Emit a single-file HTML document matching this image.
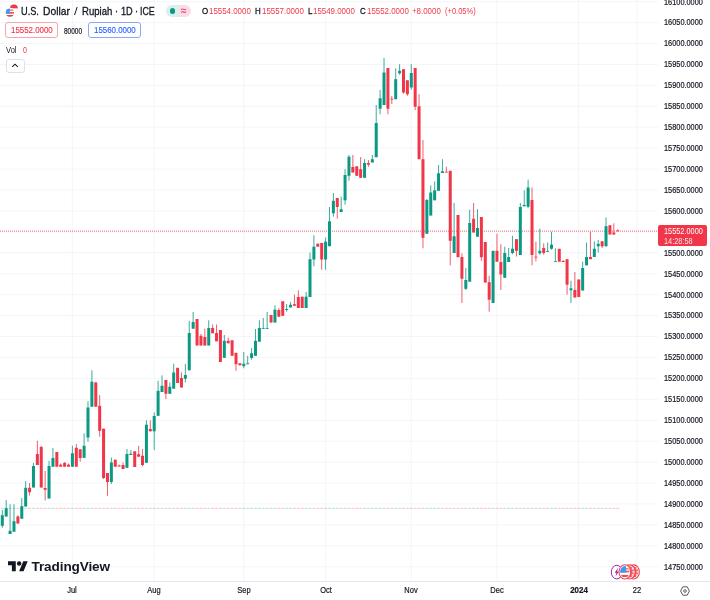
<!DOCTYPE html>
<html><head><meta charset="utf-8"><title>USDIDR</title>
<style>
html,body{margin:0;padding:0;background:#fff;}
body{width:710px;height:600px;position:relative;overflow:hidden;font-family:"Liberation Sans",sans-serif;color:#131722;}
#wrap{position:absolute;left:0;top:0;width:710px;height:600px;overflow:hidden;will-change:transform;background:#fff;}
#chart{position:absolute;left:0;top:0;width:710px;height:600px;}
.pl{position:absolute;left:663.7px;width:54px;height:14px;line-height:14px;font-size:9.5px;white-space:nowrap;transform-origin:0 50%;transform:scaleX(0.775);color:#131722;-webkit-text-stroke:0.22px #131722;}
.tl{position:absolute;top:583.2px;width:60px;height:14px;line-height:14px;text-align:center;font-size:8.6px;transform:scaleX(0.87);color:#131722;white-space:nowrap;-webkit-text-stroke:0.2px #131722;}
.tl.b{font-weight:bold;transform:scaleX(0.92);}
#taxis{position:absolute;left:0;top:580.8px;width:710px;height:1px;background:#e5e6ea;}
#plabel{position:absolute;left:657.7px;top:225.4px;width:49.3px;height:20.7px;background:#f03648;border-radius:2px;color:#fff;}
#plabel div{position:absolute;left:6.2px;white-space:nowrap;font-size:9.3px;line-height:10px;transform-origin:0 50%;transform:scaleX(0.79);}
.tt{position:absolute;top:3.2px;height:16px;line-height:16px;font-size:11.5px;white-space:nowrap;transform-origin:0 50%;color:#131722;-webkit-text-stroke:0.32px #131722;}
#title{position:absolute;left:20.6px;top:3px;height:16px;line-height:16px;font-size:12px;white-space:nowrap;transform-origin:0 50%;transform:scaleX(0.821);color:#131722;}
.ohlc{position:absolute;top:5.2px;height:12px;line-height:12px;font-size:9.5px;white-space:nowrap;transform-origin:0 50%;transform:scaleX(0.833);color:#f03648;}
.ohlc b{font-weight:normal;color:#131722;}
.btn{position:absolute;top:22.2px;height:14.3px;border-radius:3px;border:1px solid;box-sizing:content-box;}
.btn span{position:absolute;left:4.9px;top:2.1px;font-size:9.2px;line-height:11px;white-space:nowrap;transform-origin:0 50%;transform:scaleX(0.86);-webkit-text-stroke:0.15px currentColor;}
</style></head><body>
<div id="wrap">
<svg id="chart" width="710" height="600" viewBox="0 0 710 600">
<line x1="0" y1="1.64" x2="658" y2="1.64" stroke="#f3f4f6" stroke-width="0.9"/>
<line x1="0" y1="22.57" x2="658" y2="22.57" stroke="#f3f4f6" stroke-width="0.9"/>
<line x1="0" y1="43.50" x2="658" y2="43.50" stroke="#f3f4f6" stroke-width="0.9"/>
<line x1="0" y1="64.43" x2="658" y2="64.43" stroke="#f3f4f6" stroke-width="0.9"/>
<line x1="0" y1="85.36" x2="658" y2="85.36" stroke="#f3f4f6" stroke-width="0.9"/>
<line x1="0" y1="106.29" x2="658" y2="106.29" stroke="#f3f4f6" stroke-width="0.9"/>
<line x1="0" y1="127.22" x2="658" y2="127.22" stroke="#f3f4f6" stroke-width="0.9"/>
<line x1="0" y1="148.15" x2="658" y2="148.15" stroke="#f3f4f6" stroke-width="0.9"/>
<line x1="0" y1="169.08" x2="658" y2="169.08" stroke="#f3f4f6" stroke-width="0.9"/>
<line x1="0" y1="190.01" x2="658" y2="190.01" stroke="#f3f4f6" stroke-width="0.9"/>
<line x1="0" y1="210.94" x2="658" y2="210.94" stroke="#f3f4f6" stroke-width="0.9"/>
<line x1="0" y1="231.87" x2="658" y2="231.87" stroke="#f3f4f6" stroke-width="0.9"/>
<line x1="0" y1="252.80" x2="658" y2="252.80" stroke="#f3f4f6" stroke-width="0.9"/>
<line x1="0" y1="273.73" x2="658" y2="273.73" stroke="#f3f4f6" stroke-width="0.9"/>
<line x1="0" y1="294.66" x2="658" y2="294.66" stroke="#f3f4f6" stroke-width="0.9"/>
<line x1="0" y1="315.59" x2="658" y2="315.59" stroke="#f3f4f6" stroke-width="0.9"/>
<line x1="0" y1="336.52" x2="658" y2="336.52" stroke="#f3f4f6" stroke-width="0.9"/>
<line x1="0" y1="357.45" x2="658" y2="357.45" stroke="#f3f4f6" stroke-width="0.9"/>
<line x1="0" y1="378.38" x2="658" y2="378.38" stroke="#f3f4f6" stroke-width="0.9"/>
<line x1="0" y1="399.31" x2="658" y2="399.31" stroke="#f3f4f6" stroke-width="0.9"/>
<line x1="0" y1="420.24" x2="658" y2="420.24" stroke="#f3f4f6" stroke-width="0.9"/>
<line x1="0" y1="441.17" x2="658" y2="441.17" stroke="#f3f4f6" stroke-width="0.9"/>
<line x1="0" y1="462.10" x2="658" y2="462.10" stroke="#f3f4f6" stroke-width="0.9"/>
<line x1="0" y1="483.03" x2="658" y2="483.03" stroke="#f3f4f6" stroke-width="0.9"/>
<line x1="0" y1="503.96" x2="658" y2="503.96" stroke="#f3f4f6" stroke-width="0.9"/>
<line x1="0" y1="524.89" x2="658" y2="524.89" stroke="#f3f4f6" stroke-width="0.9"/>
<line x1="0" y1="545.82" x2="658" y2="545.82" stroke="#f3f4f6" stroke-width="0.9"/>
<line x1="0" y1="566.75" x2="658" y2="566.75" stroke="#f3f4f6" stroke-width="0.9"/>
<line x1="72.3" y1="0" x2="72.3" y2="581" stroke="#f3f4f6" stroke-width="0.9"/>
<line x1="154.2" y1="0" x2="154.2" y2="581" stroke="#f3f4f6" stroke-width="0.9"/>
<line x1="243.8" y1="0" x2="243.8" y2="581" stroke="#f3f4f6" stroke-width="0.9"/>
<line x1="325.6" y1="0" x2="325.6" y2="581" stroke="#f3f4f6" stroke-width="0.9"/>
<line x1="411.3" y1="0" x2="411.3" y2="581" stroke="#f3f4f6" stroke-width="0.9"/>
<line x1="497" y1="0" x2="497" y2="581" stroke="#f3f4f6" stroke-width="0.9"/>
<line x1="578.7" y1="0" x2="578.7" y2="581" stroke="#f3f4f6" stroke-width="0.9"/>
<line x1="637.1" y1="0" x2="637.1" y2="581" stroke="#f3f4f6" stroke-width="0.9"/>
<rect x="0.80" y="507.8" width="3" height="1" fill="#0b9983" opacity="0.3"/>
<rect x="4.70" y="507.8" width="3" height="1" fill="#0b9983" opacity="0.3"/>
<rect x="8.59" y="507.8" width="3" height="1" fill="#0b9983" opacity="0.3"/>
<rect x="12.48" y="507.8" width="3" height="1" fill="#0b9983" opacity="0.3"/>
<rect x="16.38" y="507.8" width="3" height="1" fill="#f03648" opacity="0.3"/>
<rect x="20.28" y="507.8" width="3" height="1" fill="#0b9983" opacity="0.3"/>
<rect x="24.17" y="507.8" width="3" height="1" fill="#0b9983" opacity="0.3"/>
<rect x="28.07" y="507.8" width="3" height="1" fill="#f03648" opacity="0.3"/>
<rect x="31.96" y="507.8" width="3" height="1" fill="#0b9983" opacity="0.3"/>
<rect x="35.85" y="507.8" width="3" height="1" fill="#f03648" opacity="0.3"/>
<rect x="39.75" y="507.8" width="3" height="1" fill="#f03648" opacity="0.3"/>
<rect x="43.64" y="507.8" width="3" height="1" fill="#f03648" opacity="0.3"/>
<rect x="47.54" y="507.8" width="3" height="1" fill="#0b9983" opacity="0.3"/>
<rect x="51.43" y="507.8" width="3" height="1" fill="#0b9983" opacity="0.3"/>
<rect x="55.33" y="507.8" width="3" height="1" fill="#f03648" opacity="0.3"/>
<rect x="59.22" y="507.8" width="3" height="1" fill="#f03648" opacity="0.3"/>
<rect x="63.12" y="507.8" width="3" height="1" fill="#f03648" opacity="0.3"/>
<rect x="67.02" y="507.8" width="3" height="1" fill="#f03648" opacity="0.3"/>
<rect x="70.91" y="507.8" width="3" height="1" fill="#0b9983" opacity="0.3"/>
<rect x="74.80" y="507.8" width="3" height="1" fill="#f03648" opacity="0.3"/>
<rect x="78.70" y="507.8" width="3" height="1" fill="#f03648" opacity="0.3"/>
<rect x="82.59" y="507.8" width="3" height="1" fill="#0b9983" opacity="0.3"/>
<rect x="86.49" y="507.8" width="3" height="1" fill="#0b9983" opacity="0.3"/>
<rect x="90.38" y="507.8" width="3" height="1" fill="#0b9983" opacity="0.3"/>
<rect x="94.28" y="507.8" width="3" height="1" fill="#f03648" opacity="0.3"/>
<rect x="98.17" y="507.8" width="3" height="1" fill="#f03648" opacity="0.3"/>
<rect x="102.07" y="507.8" width="3" height="1" fill="#f03648" opacity="0.3"/>
<rect x="105.97" y="507.8" width="3" height="1" fill="#f03648" opacity="0.3"/>
<rect x="109.86" y="507.8" width="3" height="1" fill="#0b9983" opacity="0.3"/>
<rect x="113.75" y="507.8" width="3" height="1" fill="#f03648" opacity="0.3"/>
<rect x="117.65" y="507.8" width="3" height="1" fill="#f03648" opacity="0.3"/>
<rect x="121.55" y="507.8" width="3" height="1" fill="#f03648" opacity="0.3"/>
<rect x="125.44" y="507.8" width="3" height="1" fill="#0b9983" opacity="0.3"/>
<rect x="129.34" y="507.8" width="3" height="1" fill="#0b9983" opacity="0.3"/>
<rect x="133.23" y="507.8" width="3" height="1" fill="#f03648" opacity="0.3"/>
<rect x="137.12" y="507.8" width="3" height="1" fill="#f03648" opacity="0.3"/>
<rect x="141.02" y="507.8" width="3" height="1" fill="#f03648" opacity="0.3"/>
<rect x="144.92" y="507.8" width="3" height="1" fill="#0b9983" opacity="0.3"/>
<rect x="148.81" y="507.8" width="3" height="1" fill="#f03648" opacity="0.3"/>
<rect x="152.71" y="507.8" width="3" height="1" fill="#0b9983" opacity="0.3"/>
<rect x="156.60" y="507.8" width="3" height="1" fill="#0b9983" opacity="0.3"/>
<rect x="160.50" y="507.8" width="3" height="1" fill="#0b9983" opacity="0.3"/>
<rect x="164.39" y="507.8" width="3" height="1" fill="#f03648" opacity="0.3"/>
<rect x="168.29" y="507.8" width="3" height="1" fill="#0b9983" opacity="0.3"/>
<rect x="172.18" y="507.8" width="3" height="1" fill="#0b9983" opacity="0.3"/>
<rect x="176.08" y="507.8" width="3" height="1" fill="#f03648" opacity="0.3"/>
<rect x="179.97" y="507.8" width="3" height="1" fill="#f03648" opacity="0.3"/>
<rect x="183.87" y="507.8" width="3" height="1" fill="#0b9983" opacity="0.3"/>
<rect x="187.76" y="507.8" width="3" height="1" fill="#0b9983" opacity="0.3"/>
<rect x="191.66" y="507.8" width="3" height="1" fill="#0b9983" opacity="0.3"/>
<rect x="195.55" y="507.8" width="3" height="1" fill="#f03648" opacity="0.3"/>
<rect x="199.45" y="507.8" width="3" height="1" fill="#f03648" opacity="0.3"/>
<rect x="203.34" y="507.8" width="3" height="1" fill="#f03648" opacity="0.3"/>
<rect x="207.24" y="507.8" width="3" height="1" fill="#0b9983" opacity="0.3"/>
<rect x="211.13" y="507.8" width="3" height="1" fill="#f03648" opacity="0.3"/>
<rect x="215.03" y="507.8" width="3" height="1" fill="#f03648" opacity="0.3"/>
<rect x="218.92" y="507.8" width="3" height="1" fill="#f03648" opacity="0.3"/>
<rect x="222.82" y="507.8" width="3" height="1" fill="#0b9983" opacity="0.3"/>
<rect x="226.71" y="507.8" width="3" height="1" fill="#f03648" opacity="0.3"/>
<rect x="230.61" y="507.8" width="3" height="1" fill="#f03648" opacity="0.3"/>
<rect x="234.50" y="507.8" width="3" height="1" fill="#f03648" opacity="0.3"/>
<rect x="238.40" y="507.8" width="3" height="1" fill="#f03648" opacity="0.3"/>
<rect x="242.29" y="507.8" width="3" height="1" fill="#0b9983" opacity="0.3"/>
<rect x="246.19" y="507.8" width="3" height="1" fill="#0b9983" opacity="0.3"/>
<rect x="250.08" y="507.8" width="3" height="1" fill="#0b9983" opacity="0.3"/>
<rect x="253.98" y="507.8" width="3" height="1" fill="#0b9983" opacity="0.3"/>
<rect x="257.87" y="507.8" width="3" height="1" fill="#0b9983" opacity="0.3"/>
<rect x="261.76" y="507.8" width="3" height="1" fill="#0b9983" opacity="0.3"/>
<rect x="265.66" y="507.8" width="3" height="1" fill="#0b9983" opacity="0.3"/>
<rect x="269.56" y="507.8" width="3" height="1" fill="#f03648" opacity="0.3"/>
<rect x="273.45" y="507.8" width="3" height="1" fill="#0b9983" opacity="0.3"/>
<rect x="277.35" y="507.8" width="3" height="1" fill="#f03648" opacity="0.3"/>
<rect x="281.24" y="507.8" width="3" height="1" fill="#f03648" opacity="0.3"/>
<rect x="285.13" y="507.8" width="3" height="1" fill="#0b9983" opacity="0.3"/>
<rect x="289.03" y="507.8" width="3" height="1" fill="#0b9983" opacity="0.3"/>
<rect x="292.93" y="507.8" width="3" height="1" fill="#f03648" opacity="0.3"/>
<rect x="296.82" y="507.8" width="3" height="1" fill="#f03648" opacity="0.3"/>
<rect x="300.72" y="507.8" width="3" height="1" fill="#f03648" opacity="0.3"/>
<rect x="304.61" y="507.8" width="3" height="1" fill="#0b9983" opacity="0.3"/>
<rect x="308.50" y="507.8" width="3" height="1" fill="#0b9983" opacity="0.3"/>
<rect x="312.40" y="507.8" width="3" height="1" fill="#0b9983" opacity="0.3"/>
<rect x="316.30" y="507.8" width="3" height="1" fill="#f03648" opacity="0.3"/>
<rect x="320.19" y="507.8" width="3" height="1" fill="#f03648" opacity="0.3"/>
<rect x="324.09" y="507.8" width="3" height="1" fill="#0b9983" opacity="0.3"/>
<rect x="327.98" y="507.8" width="3" height="1" fill="#0b9983" opacity="0.3"/>
<rect x="331.88" y="507.8" width="3" height="1" fill="#0b9983" opacity="0.3"/>
<rect x="335.77" y="507.8" width="3" height="1" fill="#f03648" opacity="0.3"/>
<rect x="339.67" y="507.8" width="3" height="1" fill="#0b9983" opacity="0.3"/>
<rect x="343.56" y="507.8" width="3" height="1" fill="#0b9983" opacity="0.3"/>
<rect x="347.46" y="507.8" width="3" height="1" fill="#0b9983" opacity="0.3"/>
<rect x="351.35" y="507.8" width="3" height="1" fill="#f03648" opacity="0.3"/>
<rect x="355.25" y="507.8" width="3" height="1" fill="#f03648" opacity="0.3"/>
<rect x="359.14" y="507.8" width="3" height="1" fill="#f03648" opacity="0.3"/>
<rect x="363.04" y="507.8" width="3" height="1" fill="#0b9983" opacity="0.3"/>
<rect x="366.93" y="507.8" width="3" height="1" fill="#f03648" opacity="0.3"/>
<rect x="370.82" y="507.8" width="3" height="1" fill="#0b9983" opacity="0.3"/>
<rect x="374.72" y="507.8" width="3" height="1" fill="#0b9983" opacity="0.3"/>
<rect x="378.62" y="507.8" width="3" height="1" fill="#0b9983" opacity="0.3"/>
<rect x="382.51" y="507.8" width="3" height="1" fill="#0b9983" opacity="0.3"/>
<rect x="386.41" y="507.8" width="3" height="1" fill="#f03648" opacity="0.3"/>
<rect x="390.30" y="507.8" width="3" height="1" fill="#f03648" opacity="0.3"/>
<rect x="394.19" y="507.8" width="3" height="1" fill="#0b9983" opacity="0.3"/>
<rect x="398.09" y="507.8" width="3" height="1" fill="#0b9983" opacity="0.3"/>
<rect x="401.99" y="507.8" width="3" height="1" fill="#f03648" opacity="0.3"/>
<rect x="405.88" y="507.8" width="3" height="1" fill="#f03648" opacity="0.3"/>
<rect x="409.78" y="507.8" width="3" height="1" fill="#0b9983" opacity="0.3"/>
<rect x="413.67" y="507.8" width="3" height="1" fill="#f03648" opacity="0.3"/>
<rect x="417.56" y="507.8" width="3" height="1" fill="#f03648" opacity="0.3"/>
<rect x="421.46" y="507.8" width="3" height="1" fill="#f03648" opacity="0.3"/>
<rect x="425.36" y="507.8" width="3" height="1" fill="#0b9983" opacity="0.3"/>
<rect x="429.25" y="507.8" width="3" height="1" fill="#0b9983" opacity="0.3"/>
<rect x="433.15" y="507.8" width="3" height="1" fill="#0b9983" opacity="0.3"/>
<rect x="437.04" y="507.8" width="3" height="1" fill="#0b9983" opacity="0.3"/>
<rect x="440.94" y="507.8" width="3" height="1" fill="#0b9983" opacity="0.3"/>
<rect x="444.83" y="507.8" width="3" height="1" fill="#f03648" opacity="0.3"/>
<rect x="448.73" y="507.8" width="3" height="1" fill="#f03648" opacity="0.3"/>
<rect x="452.62" y="507.8" width="3" height="1" fill="#0b9983" opacity="0.3"/>
<rect x="456.51" y="507.8" width="3" height="1" fill="#f03648" opacity="0.3"/>
<rect x="460.41" y="507.8" width="3" height="1" fill="#f03648" opacity="0.3"/>
<rect x="464.31" y="507.8" width="3" height="1" fill="#0b9983" opacity="0.3"/>
<rect x="468.20" y="507.8" width="3" height="1" fill="#0b9983" opacity="0.3"/>
<rect x="472.10" y="507.8" width="3" height="1" fill="#f03648" opacity="0.3"/>
<rect x="475.99" y="507.8" width="3" height="1" fill="#0b9983" opacity="0.3"/>
<rect x="479.88" y="507.8" width="3" height="1" fill="#f03648" opacity="0.3"/>
<rect x="483.78" y="507.8" width="3" height="1" fill="#f03648" opacity="0.3"/>
<rect x="487.68" y="507.8" width="3" height="1" fill="#f03648" opacity="0.3"/>
<rect x="491.57" y="507.8" width="3" height="1" fill="#0b9983" opacity="0.3"/>
<rect x="495.47" y="507.8" width="3" height="1" fill="#f03648" opacity="0.3"/>
<rect x="499.36" y="507.8" width="3" height="1" fill="#f03648" opacity="0.3"/>
<rect x="503.25" y="507.8" width="3" height="1" fill="#0b9983" opacity="0.3"/>
<rect x="507.15" y="507.8" width="3" height="1" fill="#0b9983" opacity="0.3"/>
<rect x="511.04" y="507.8" width="3" height="1" fill="#0b9983" opacity="0.3"/>
<rect x="514.94" y="507.8" width="3" height="1" fill="#f03648" opacity="0.3"/>
<rect x="518.83" y="507.8" width="3" height="1" fill="#0b9983" opacity="0.3"/>
<rect x="522.73" y="507.8" width="3" height="1" fill="#0b9983" opacity="0.3"/>
<rect x="526.62" y="507.8" width="3" height="1" fill="#0b9983" opacity="0.3"/>
<rect x="530.52" y="507.8" width="3" height="1" fill="#f03648" opacity="0.3"/>
<rect x="534.41" y="507.8" width="3" height="1" fill="#f03648" opacity="0.3"/>
<rect x="538.31" y="507.8" width="3" height="1" fill="#0b9983" opacity="0.3"/>
<rect x="542.20" y="507.8" width="3" height="1" fill="#f03648" opacity="0.3"/>
<rect x="546.10" y="507.8" width="3" height="1" fill="#0b9983" opacity="0.3"/>
<rect x="550.00" y="507.8" width="3" height="1" fill="#0b9983" opacity="0.3"/>
<rect x="553.89" y="507.8" width="3" height="1" fill="#0b9983" opacity="0.3"/>
<rect x="557.78" y="507.8" width="3" height="1" fill="#f03648" opacity="0.3"/>
<rect x="561.68" y="507.8" width="3" height="1" fill="#f03648" opacity="0.3"/>
<rect x="565.57" y="507.8" width="3" height="1" fill="#f03648" opacity="0.3"/>
<rect x="569.47" y="507.8" width="3" height="1" fill="#0b9983" opacity="0.3"/>
<rect x="573.37" y="507.8" width="3" height="1" fill="#f03648" opacity="0.3"/>
<rect x="577.26" y="507.8" width="3" height="1" fill="#f03648" opacity="0.3"/>
<rect x="581.15" y="507.8" width="3" height="1" fill="#0b9983" opacity="0.3"/>
<rect x="585.05" y="507.8" width="3" height="1" fill="#0b9983" opacity="0.3"/>
<rect x="588.94" y="507.8" width="3" height="1" fill="#f03648" opacity="0.3"/>
<rect x="592.84" y="507.8" width="3" height="1" fill="#0b9983" opacity="0.3"/>
<rect x="596.74" y="507.8" width="3" height="1" fill="#0b9983" opacity="0.3"/>
<rect x="600.63" y="507.8" width="3" height="1" fill="#f03648" opacity="0.3"/>
<rect x="604.52" y="507.8" width="3" height="1" fill="#0b9983" opacity="0.3"/>
<rect x="608.42" y="507.8" width="3" height="1" fill="#f03648" opacity="0.3"/>
<rect x="612.31" y="507.8" width="3" height="1" fill="#f03648" opacity="0.3"/>
<rect x="616.21" y="507.8" width="3" height="1" fill="#f03648" opacity="0.3"/>
<line x1="0" y1="231.1" x2="658" y2="231.1" stroke="#f03648" stroke-width="1.1" stroke-dasharray="1 1" opacity="0.6"/>
<rect x="1.80" y="510.00" width="1" height="17.80" fill="#0b9983" opacity="0.8"/>
<rect x="0.80" y="515.20" width="3.0" height="10.60" fill="#0b9983"/>
<rect x="5.70" y="500.00" width="1" height="16.50" fill="#0b9983" opacity="0.8"/>
<rect x="4.70" y="508.20" width="3.0" height="8.30" fill="#0b9983"/>
<rect x="9.59" y="504.20" width="1" height="29.80" fill="#0b9983" opacity="0.8"/>
<rect x="8.59" y="530.80" width="3.0" height="3.20" fill="#0b9983"/>
<rect x="13.48" y="504.20" width="1" height="27.50" fill="#0b9983" opacity="0.8"/>
<rect x="12.48" y="521.20" width="3.0" height="10.50" fill="#0b9983"/>
<rect x="17.38" y="515.20" width="1" height="8.30" fill="#f03648" opacity="0.8"/>
<rect x="16.38" y="516.50" width="3.0" height="7.00" fill="#f03648"/>
<rect x="21.28" y="498.00" width="1" height="20.70" fill="#0b9983" opacity="0.8"/>
<rect x="20.28" y="506.20" width="3.0" height="12.50" fill="#0b9983"/>
<rect x="25.17" y="481.00" width="1" height="25.50" fill="#0b9983" opacity="0.8"/>
<rect x="24.17" y="487.80" width="3.0" height="18.70" fill="#0b9983"/>
<rect x="29.07" y="483.00" width="1" height="12.50" fill="#f03648" opacity="0.8"/>
<rect x="28.07" y="487.80" width="3.0" height="4.40" fill="#f03648"/>
<rect x="32.96" y="463.00" width="1" height="24.50" fill="#0b9983" opacity="0.8"/>
<rect x="31.96" y="466.00" width="3.0" height="21.50" fill="#0b9983"/>
<rect x="36.85" y="440.80" width="1" height="24.20" fill="#f03648" opacity="0.8"/>
<rect x="35.85" y="454.00" width="3.0" height="11.00" fill="#f03648"/>
<rect x="40.75" y="445.80" width="1" height="41.70" fill="#f03648" opacity="0.8"/>
<rect x="39.75" y="447.00" width="3.0" height="40.50" fill="#f03648"/>
<rect x="44.64" y="471.00" width="1" height="29.50" fill="#f03648" opacity="0.8"/>
<rect x="43.64" y="488.00" width="3.0" height="1.80" fill="#f03648"/>
<rect x="48.54" y="460.80" width="1" height="37.70" fill="#0b9983" opacity="0.8"/>
<rect x="47.54" y="466.00" width="3.0" height="32.50" fill="#0b9983"/>
<rect x="52.43" y="448.00" width="1" height="18.70" fill="#0b9983" opacity="0.8"/>
<rect x="51.43" y="458.00" width="3.0" height="8.70" fill="#0b9983"/>
<rect x="56.33" y="452.00" width="1" height="14.70" fill="#f03648" opacity="0.8"/>
<rect x="55.33" y="452.00" width="3.0" height="14.70" fill="#f03648"/>
<rect x="60.22" y="463.50" width="1" height="3.20" fill="#f03648" opacity="0.8"/>
<rect x="59.22" y="464.70" width="3.0" height="2.00" fill="#f03648"/>
<rect x="64.12" y="462.00" width="1" height="4.70" fill="#f03648" opacity="0.8"/>
<rect x="63.12" y="463.00" width="3.0" height="3.70" fill="#f03648"/>
<rect x="68.02" y="463.50" width="1" height="3.20" fill="#f03648" opacity="0.8"/>
<rect x="67.02" y="464.70" width="3.0" height="2.00" fill="#f03648"/>
<rect x="71.91" y="445.80" width="1" height="20.90" fill="#0b9983" opacity="0.8"/>
<rect x="70.91" y="453.30" width="3.0" height="13.40" fill="#0b9983"/>
<rect x="75.80" y="444.00" width="1" height="22.70" fill="#f03648" opacity="0.8"/>
<rect x="74.80" y="447.80" width="3.0" height="18.90" fill="#f03648"/>
<rect x="79.70" y="449.30" width="1" height="12.40" fill="#f03648" opacity="0.8"/>
<rect x="78.70" y="449.30" width="3.0" height="8.70" fill="#f03648"/>
<rect x="83.59" y="433.30" width="1" height="24.50" fill="#0b9983" opacity="0.8"/>
<rect x="82.59" y="445.80" width="3.0" height="12.00" fill="#0b9983"/>
<rect x="87.49" y="401.30" width="1" height="40.40" fill="#0b9983" opacity="0.8"/>
<rect x="86.49" y="407.50" width="3.0" height="30.00" fill="#0b9983"/>
<rect x="91.38" y="370.30" width="1" height="36.40" fill="#0b9983" opacity="0.8"/>
<rect x="90.38" y="381.70" width="3.0" height="25.00" fill="#0b9983"/>
<rect x="95.28" y="381.70" width="1" height="25.00" fill="#f03648" opacity="0.8"/>
<rect x="94.28" y="382.50" width="3.0" height="24.20" fill="#f03648"/>
<rect x="99.17" y="395.00" width="1" height="41.70" fill="#f03648" opacity="0.8"/>
<rect x="98.17" y="405.80" width="3.0" height="25.00" fill="#f03648"/>
<rect x="103.07" y="428.70" width="1" height="50.30" fill="#f03648" opacity="0.8"/>
<rect x="102.07" y="428.70" width="3.0" height="49.30" fill="#f03648"/>
<rect x="106.97" y="473.00" width="1" height="22.80" fill="#f03648" opacity="0.8"/>
<rect x="105.97" y="473.00" width="3.0" height="9.00" fill="#f03648"/>
<rect x="110.86" y="457.50" width="1" height="26.50" fill="#0b9983" opacity="0.8"/>
<rect x="109.86" y="462.50" width="3.0" height="19.50" fill="#0b9983"/>
<rect x="114.75" y="459.70" width="1" height="7.00" fill="#f03648" opacity="0.8"/>
<rect x="113.75" y="459.70" width="3.0" height="7.00" fill="#f03648"/>
<rect x="118.65" y="464.50" width="1" height="2.00" fill="#f03648" opacity="0.8"/>
<rect x="117.65" y="465.50" width="3.0" height="1.00" fill="#f03648"/>
<rect x="122.55" y="462.50" width="1" height="6.50" fill="#f03648" opacity="0.8"/>
<rect x="121.55" y="465.00" width="3.0" height="4.00" fill="#f03648"/>
<rect x="126.44" y="449.00" width="1" height="18.80" fill="#0b9983" opacity="0.8"/>
<rect x="125.44" y="454.00" width="3.0" height="13.80" fill="#0b9983"/>
<rect x="130.34" y="450.00" width="1" height="5.00" fill="#0b9983" opacity="0.8"/>
<rect x="129.34" y="453.80" width="3.0" height="1.20" fill="#0b9983"/>
<rect x="134.23" y="451.30" width="1" height="15.70" fill="#f03648" opacity="0.8"/>
<rect x="133.23" y="451.30" width="3.0" height="15.70" fill="#f03648"/>
<rect x="138.12" y="445.80" width="1" height="10.90" fill="#f03648" opacity="0.8"/>
<rect x="137.12" y="454.20" width="3.0" height="2.50" fill="#f03648"/>
<rect x="142.02" y="449.00" width="1" height="17.30" fill="#f03648" opacity="0.8"/>
<rect x="141.02" y="455.80" width="3.0" height="9.20" fill="#f03648"/>
<rect x="145.92" y="420.30" width="1" height="42.50" fill="#0b9983" opacity="0.8"/>
<rect x="144.92" y="424.70" width="3.0" height="38.10" fill="#0b9983"/>
<rect x="149.81" y="420.30" width="1" height="11.00" fill="#f03648" opacity="0.8"/>
<rect x="148.81" y="429.00" width="3.0" height="2.30" fill="#f03648"/>
<rect x="153.71" y="412.50" width="1" height="37.50" fill="#0b9983" opacity="0.8"/>
<rect x="152.71" y="416.00" width="3.0" height="15.30" fill="#0b9983"/>
<rect x="157.60" y="380.80" width="1" height="35.00" fill="#0b9983" opacity="0.8"/>
<rect x="156.60" y="390.80" width="3.0" height="25.00" fill="#0b9983"/>
<rect x="161.50" y="375.30" width="1" height="16.70" fill="#0b9983" opacity="0.8"/>
<rect x="160.50" y="385.80" width="3.0" height="6.20" fill="#0b9983"/>
<rect x="165.39" y="380.00" width="1" height="19.00" fill="#f03648" opacity="0.8"/>
<rect x="164.39" y="380.00" width="3.0" height="13.80" fill="#f03648"/>
<rect x="169.29" y="382.50" width="1" height="11.30" fill="#0b9983" opacity="0.8"/>
<rect x="168.29" y="386.70" width="3.0" height="7.10" fill="#0b9983"/>
<rect x="173.18" y="363.70" width="1" height="25.00" fill="#0b9983" opacity="0.8"/>
<rect x="172.18" y="372.50" width="3.0" height="16.20" fill="#0b9983"/>
<rect x="177.08" y="367.80" width="1" height="15.20" fill="#f03648" opacity="0.8"/>
<rect x="176.08" y="367.80" width="3.0" height="15.20" fill="#f03648"/>
<rect x="180.97" y="372.50" width="1" height="15.00" fill="#f03648" opacity="0.8"/>
<rect x="179.97" y="378.00" width="3.0" height="9.50" fill="#f03648"/>
<rect x="184.87" y="364.00" width="1" height="18.50" fill="#0b9983" opacity="0.8"/>
<rect x="183.87" y="375.00" width="3.0" height="3.70" fill="#0b9983"/>
<rect x="188.76" y="320.80" width="1" height="49.50" fill="#0b9983" opacity="0.8"/>
<rect x="187.76" y="333.00" width="3.0" height="37.30" fill="#0b9983"/>
<rect x="192.66" y="312.00" width="1" height="16.70" fill="#0b9983" opacity="0.8"/>
<rect x="191.66" y="322.00" width="3.0" height="6.70" fill="#0b9983"/>
<rect x="196.55" y="319.00" width="1" height="26.50" fill="#f03648" opacity="0.8"/>
<rect x="195.55" y="319.00" width="3.0" height="26.50" fill="#f03648"/>
<rect x="200.45" y="334.00" width="1" height="11.50" fill="#f03648" opacity="0.8"/>
<rect x="199.45" y="335.80" width="3.0" height="9.70" fill="#f03648"/>
<rect x="204.34" y="328.70" width="1" height="16.80" fill="#f03648" opacity="0.8"/>
<rect x="203.34" y="337.00" width="3.0" height="8.50" fill="#f03648"/>
<rect x="208.24" y="320.30" width="1" height="25.20" fill="#0b9983" opacity="0.8"/>
<rect x="207.24" y="328.00" width="3.0" height="17.50" fill="#0b9983"/>
<rect x="212.13" y="324.50" width="1" height="8.80" fill="#f03648" opacity="0.8"/>
<rect x="211.13" y="328.00" width="3.0" height="5.30" fill="#f03648"/>
<rect x="216.03" y="324.50" width="1" height="16.80" fill="#f03648" opacity="0.8"/>
<rect x="215.03" y="333.00" width="3.0" height="8.30" fill="#f03648"/>
<rect x="219.92" y="330.00" width="1" height="32.00" fill="#f03648" opacity="0.8"/>
<rect x="218.92" y="330.00" width="3.0" height="32.00" fill="#f03648"/>
<rect x="223.82" y="335.00" width="1" height="22.80" fill="#0b9983" opacity="0.8"/>
<rect x="222.82" y="340.80" width="3.0" height="17.00" fill="#0b9983"/>
<rect x="227.71" y="337.50" width="1" height="5.80" fill="#f03648" opacity="0.8"/>
<rect x="226.71" y="340.80" width="3.0" height="2.50" fill="#f03648"/>
<rect x="231.61" y="340.30" width="1" height="15.50" fill="#f03648" opacity="0.8"/>
<rect x="230.61" y="340.30" width="3.0" height="15.50" fill="#f03648"/>
<rect x="235.50" y="352.80" width="1" height="18.00" fill="#f03648" opacity="0.8"/>
<rect x="234.50" y="352.80" width="3.0" height="11.40" fill="#f03648"/>
<rect x="239.40" y="363.30" width="1" height="2.00" fill="#f03648" opacity="0.8"/>
<rect x="238.40" y="363.30" width="3.0" height="2.00" fill="#f03648"/>
<rect x="243.29" y="352.00" width="1" height="16.30" fill="#0b9983" opacity="0.8"/>
<rect x="242.29" y="363.80" width="3.0" height="2.40" fill="#0b9983"/>
<rect x="247.19" y="355.80" width="1" height="8.40" fill="#0b9983" opacity="0.8"/>
<rect x="246.19" y="363.30" width="3.0" height="0.90" fill="#0b9983"/>
<rect x="251.08" y="348.00" width="1" height="11.70" fill="#0b9983" opacity="0.8"/>
<rect x="250.08" y="353.30" width="3.0" height="4.70" fill="#0b9983"/>
<rect x="254.98" y="329.00" width="1" height="26.80" fill="#0b9983" opacity="0.8"/>
<rect x="253.98" y="340.80" width="3.0" height="15.00" fill="#0b9983"/>
<rect x="258.87" y="320.30" width="1" height="21.40" fill="#0b9983" opacity="0.8"/>
<rect x="257.87" y="328.00" width="3.0" height="13.70" fill="#0b9983"/>
<rect x="262.76" y="318.00" width="1" height="10.70" fill="#0b9983" opacity="0.8"/>
<rect x="261.76" y="328.00" width="3.0" height="0.80" fill="#0b9983"/>
<rect x="266.66" y="312.00" width="1" height="16.70" fill="#0b9983" opacity="0.8"/>
<rect x="265.66" y="328.00" width="3.0" height="0.80" fill="#0b9983"/>
<rect x="270.56" y="315.00" width="1" height="7.50" fill="#f03648" opacity="0.8"/>
<rect x="269.56" y="315.00" width="3.0" height="7.50" fill="#f03648"/>
<rect x="274.45" y="305.30" width="1" height="17.20" fill="#0b9983" opacity="0.8"/>
<rect x="273.45" y="309.70" width="3.0" height="12.80" fill="#0b9983"/>
<rect x="278.35" y="308.30" width="1" height="8.40" fill="#f03648" opacity="0.8"/>
<rect x="277.35" y="310.00" width="3.0" height="6.70" fill="#f03648"/>
<rect x="282.24" y="301.30" width="1" height="14.50" fill="#f03648" opacity="0.8"/>
<rect x="281.24" y="301.30" width="3.0" height="14.50" fill="#f03648"/>
<rect x="286.13" y="304.00" width="1" height="7.70" fill="#0b9983" opacity="0.8"/>
<rect x="285.13" y="309.00" width="3.0" height="1.00" fill="#0b9983"/>
<rect x="290.03" y="302.00" width="1" height="5.40" fill="#0b9983" opacity="0.8"/>
<rect x="289.03" y="304.80" width="3.0" height="2.60" fill="#0b9983"/>
<rect x="293.93" y="294.70" width="1" height="11.10" fill="#f03648" opacity="0.8"/>
<rect x="292.93" y="304.20" width="3.0" height="1.60" fill="#f03648"/>
<rect x="297.82" y="290.30" width="1" height="17.70" fill="#f03648" opacity="0.8"/>
<rect x="296.82" y="297.00" width="3.0" height="11.00" fill="#f03648"/>
<rect x="301.72" y="296.70" width="1" height="11.30" fill="#f03648" opacity="0.8"/>
<rect x="300.72" y="296.70" width="3.0" height="11.30" fill="#f03648"/>
<rect x="305.61" y="292.00" width="1" height="16.00" fill="#0b9983" opacity="0.8"/>
<rect x="304.61" y="296.70" width="3.0" height="11.30" fill="#0b9983"/>
<rect x="309.50" y="252.50" width="1" height="44.50" fill="#0b9983" opacity="0.8"/>
<rect x="308.50" y="259.20" width="3.0" height="37.80" fill="#0b9983"/>
<rect x="313.40" y="235.30" width="1" height="31.00" fill="#0b9983" opacity="0.8"/>
<rect x="312.40" y="246.70" width="3.0" height="12.80" fill="#0b9983"/>
<rect x="317.30" y="243.70" width="1" height="3.00" fill="#f03648" opacity="0.8"/>
<rect x="316.30" y="243.70" width="3.0" height="3.00" fill="#f03648"/>
<rect x="321.19" y="243.00" width="1" height="26.70" fill="#f03648" opacity="0.8"/>
<rect x="320.19" y="243.00" width="3.0" height="16.50" fill="#f03648"/>
<rect x="325.09" y="237.50" width="1" height="32.20" fill="#0b9983" opacity="0.8"/>
<rect x="324.09" y="241.70" width="3.0" height="17.80" fill="#0b9983"/>
<rect x="328.98" y="207.00" width="1" height="39.20" fill="#0b9983" opacity="0.8"/>
<rect x="327.98" y="221.30" width="3.0" height="24.90" fill="#0b9983"/>
<rect x="332.88" y="193.00" width="1" height="23.70" fill="#0b9983" opacity="0.8"/>
<rect x="331.88" y="200.80" width="3.0" height="12.50" fill="#0b9983"/>
<rect x="336.77" y="198.00" width="1" height="20.70" fill="#f03648" opacity="0.8"/>
<rect x="335.77" y="198.00" width="3.0" height="9.00" fill="#f03648"/>
<rect x="340.67" y="196.70" width="1" height="15.30" fill="#0b9983" opacity="0.8"/>
<rect x="339.67" y="209.20" width="3.0" height="2.80" fill="#0b9983"/>
<rect x="344.56" y="169.20" width="1" height="35.50" fill="#0b9983" opacity="0.8"/>
<rect x="343.56" y="175.00" width="3.0" height="25.30" fill="#0b9983"/>
<rect x="348.46" y="155.00" width="1" height="25.80" fill="#0b9983" opacity="0.8"/>
<rect x="347.46" y="156.70" width="3.0" height="19.10" fill="#0b9983"/>
<rect x="352.35" y="155.00" width="1" height="17.50" fill="#f03648" opacity="0.8"/>
<rect x="351.35" y="167.00" width="3.0" height="5.50" fill="#f03648"/>
<rect x="356.25" y="166.30" width="1" height="9.50" fill="#f03648" opacity="0.8"/>
<rect x="355.25" y="166.30" width="3.0" height="9.50" fill="#f03648"/>
<rect x="360.14" y="157.00" width="1" height="20.80" fill="#f03648" opacity="0.8"/>
<rect x="359.14" y="169.20" width="3.0" height="8.60" fill="#f03648"/>
<rect x="364.04" y="159.20" width="1" height="18.60" fill="#0b9983" opacity="0.8"/>
<rect x="363.04" y="163.00" width="3.0" height="14.80" fill="#0b9983"/>
<rect x="367.93" y="160.00" width="1" height="6.70" fill="#f03648" opacity="0.8"/>
<rect x="366.93" y="163.00" width="3.0" height="1.70" fill="#f03648"/>
<rect x="371.82" y="155.00" width="1" height="7.50" fill="#0b9983" opacity="0.8"/>
<rect x="370.82" y="159.20" width="3.0" height="3.30" fill="#0b9983"/>
<rect x="375.72" y="105.00" width="1" height="52.20" fill="#0b9983" opacity="0.8"/>
<rect x="374.72" y="123.00" width="3.0" height="34.20" fill="#0b9983"/>
<rect x="379.62" y="90.00" width="1" height="24.20" fill="#0b9983" opacity="0.8"/>
<rect x="378.62" y="98.30" width="3.0" height="10.40" fill="#0b9983"/>
<rect x="383.51" y="58.00" width="1" height="47.00" fill="#0b9983" opacity="0.8"/>
<rect x="382.51" y="72.50" width="3.0" height="32.50" fill="#0b9983"/>
<rect x="387.41" y="68.00" width="1" height="46.20" fill="#f03648" opacity="0.8"/>
<rect x="386.41" y="68.00" width="3.0" height="40.70" fill="#f03648"/>
<rect x="391.30" y="95.80" width="1" height="8.20" fill="#f03648" opacity="0.8"/>
<rect x="390.30" y="98.70" width="3.0" height="0.80" fill="#f03648"/>
<rect x="395.19" y="68.30" width="1" height="30.90" fill="#0b9983" opacity="0.8"/>
<rect x="394.19" y="79.20" width="3.0" height="20.00" fill="#0b9983"/>
<rect x="399.09" y="64.20" width="1" height="10.50" fill="#0b9983" opacity="0.8"/>
<rect x="398.09" y="70.80" width="3.0" height="2.50" fill="#0b9983"/>
<rect x="402.99" y="69.20" width="1" height="24.50" fill="#f03648" opacity="0.8"/>
<rect x="401.99" y="69.20" width="3.0" height="23.30" fill="#f03648"/>
<rect x="406.88" y="80.30" width="1" height="15.50" fill="#f03648" opacity="0.8"/>
<rect x="405.88" y="80.30" width="3.0" height="13.90" fill="#f03648"/>
<rect x="410.78" y="64.20" width="1" height="25.50" fill="#0b9983" opacity="0.8"/>
<rect x="409.78" y="73.00" width="3.0" height="14.50" fill="#0b9983"/>
<rect x="414.67" y="68.00" width="1" height="42.00" fill="#f03648" opacity="0.8"/>
<rect x="413.67" y="68.00" width="3.0" height="38.70" fill="#f03648"/>
<rect x="418.56" y="94.20" width="1" height="65.00" fill="#f03648" opacity="0.8"/>
<rect x="417.56" y="106.30" width="3.0" height="52.90" fill="#f03648"/>
<rect x="422.46" y="140.00" width="1" height="108.30" fill="#f03648" opacity="0.8"/>
<rect x="421.46" y="159.20" width="3.0" height="78.60" fill="#f03648"/>
<rect x="426.36" y="199.00" width="1" height="34.80" fill="#0b9983" opacity="0.8"/>
<rect x="425.36" y="200.00" width="3.0" height="33.80" fill="#0b9983"/>
<rect x="430.25" y="185.30" width="1" height="30.20" fill="#0b9983" opacity="0.8"/>
<rect x="429.25" y="192.50" width="3.0" height="23.00" fill="#0b9983"/>
<rect x="434.15" y="181.30" width="1" height="19.00" fill="#0b9983" opacity="0.8"/>
<rect x="433.15" y="190.30" width="3.0" height="10.00" fill="#0b9983"/>
<rect x="438.04" y="165.00" width="1" height="25.80" fill="#0b9983" opacity="0.8"/>
<rect x="437.04" y="173.30" width="3.0" height="17.50" fill="#0b9983"/>
<rect x="441.94" y="159.20" width="1" height="13.80" fill="#0b9983" opacity="0.8"/>
<rect x="440.94" y="171.30" width="3.0" height="1.70" fill="#0b9983"/>
<rect x="445.83" y="166.70" width="1" height="5.80" fill="#f03648" opacity="0.8"/>
<rect x="444.83" y="171.70" width="3.0" height="0.80" fill="#f03648"/>
<rect x="449.73" y="170.80" width="1" height="94.50" fill="#f03648" opacity="0.8"/>
<rect x="448.73" y="170.80" width="3.0" height="70.00" fill="#f03648"/>
<rect x="453.62" y="203.00" width="1" height="50.00" fill="#0b9983" opacity="0.8"/>
<rect x="452.62" y="236.30" width="3.0" height="16.70" fill="#0b9983"/>
<rect x="457.51" y="215.00" width="1" height="42.20" fill="#f03648" opacity="0.8"/>
<rect x="456.51" y="215.00" width="3.0" height="42.20" fill="#f03648"/>
<rect x="461.41" y="253.30" width="1" height="49.70" fill="#f03648" opacity="0.8"/>
<rect x="460.41" y="257.00" width="3.0" height="21.70" fill="#f03648"/>
<rect x="465.31" y="268.00" width="1" height="22.00" fill="#0b9983" opacity="0.8"/>
<rect x="464.31" y="280.00" width="3.0" height="8.80" fill="#0b9983"/>
<rect x="469.20" y="209.70" width="1" height="72.00" fill="#0b9983" opacity="0.8"/>
<rect x="468.20" y="223.00" width="3.0" height="58.70" fill="#0b9983"/>
<rect x="473.10" y="203.00" width="1" height="29.50" fill="#f03648" opacity="0.8"/>
<rect x="472.10" y="218.80" width="3.0" height="13.70" fill="#f03648"/>
<rect x="476.99" y="209.20" width="1" height="27.50" fill="#0b9983" opacity="0.8"/>
<rect x="475.99" y="228.00" width="3.0" height="8.70" fill="#0b9983"/>
<rect x="480.88" y="217.00" width="1" height="43.80" fill="#f03648" opacity="0.8"/>
<rect x="479.88" y="217.00" width="3.0" height="40.20" fill="#f03648"/>
<rect x="484.78" y="242.00" width="1" height="40.50" fill="#f03648" opacity="0.8"/>
<rect x="483.78" y="242.00" width="3.0" height="40.50" fill="#f03648"/>
<rect x="488.68" y="275.80" width="1" height="35.90" fill="#f03648" opacity="0.8"/>
<rect x="487.68" y="282.20" width="3.0" height="17.50" fill="#f03648"/>
<rect x="492.57" y="250.80" width="1" height="52.20" fill="#0b9983" opacity="0.8"/>
<rect x="491.57" y="250.80" width="3.0" height="52.20" fill="#0b9983"/>
<rect x="496.47" y="233.70" width="1" height="28.00" fill="#f03648" opacity="0.8"/>
<rect x="495.47" y="250.80" width="3.0" height="10.90" fill="#f03648"/>
<rect x="500.36" y="244.20" width="1" height="45.80" fill="#f03648" opacity="0.8"/>
<rect x="499.36" y="262.00" width="3.0" height="12.50" fill="#f03648"/>
<rect x="504.25" y="246.70" width="1" height="31.10" fill="#0b9983" opacity="0.8"/>
<rect x="503.25" y="253.00" width="3.0" height="24.80" fill="#0b9983"/>
<rect x="508.15" y="248.00" width="1" height="14.00" fill="#0b9983" opacity="0.8"/>
<rect x="507.15" y="257.00" width="3.0" height="5.00" fill="#0b9983"/>
<rect x="512.04" y="235.80" width="1" height="18.40" fill="#0b9983" opacity="0.8"/>
<rect x="511.04" y="248.70" width="3.0" height="4.30" fill="#0b9983"/>
<rect x="515.94" y="239.20" width="1" height="17.30" fill="#f03648" opacity="0.8"/>
<rect x="514.94" y="239.20" width="3.0" height="11.60" fill="#f03648"/>
<rect x="519.83" y="203.00" width="1" height="52.00" fill="#0b9983" opacity="0.8"/>
<rect x="518.83" y="207.00" width="3.0" height="48.00" fill="#0b9983"/>
<rect x="523.73" y="190.30" width="1" height="16.00" fill="#0b9983" opacity="0.8"/>
<rect x="522.73" y="205.00" width="3.0" height="1.30" fill="#0b9983"/>
<rect x="527.62" y="179.70" width="1" height="28.60" fill="#0b9983" opacity="0.8"/>
<rect x="526.62" y="187.50" width="3.0" height="19.20" fill="#0b9983"/>
<rect x="531.52" y="187.50" width="1" height="77.80" fill="#f03648" opacity="0.8"/>
<rect x="530.52" y="200.00" width="3.0" height="55.00" fill="#f03648"/>
<rect x="535.41" y="241.70" width="1" height="19.60" fill="#f03648" opacity="0.8"/>
<rect x="534.41" y="256.70" width="3.0" height="0.80" fill="#f03648"/>
<rect x="539.31" y="228.70" width="1" height="26.00" fill="#0b9983" opacity="0.8"/>
<rect x="538.31" y="250.80" width="3.0" height="2.50" fill="#0b9983"/>
<rect x="543.20" y="243.30" width="1" height="11.40" fill="#f03648" opacity="0.8"/>
<rect x="542.20" y="248.00" width="3.0" height="5.00" fill="#f03648"/>
<rect x="547.10" y="242.50" width="1" height="9.50" fill="#0b9983" opacity="0.8"/>
<rect x="546.10" y="251.20" width="3.0" height="0.80" fill="#0b9983"/>
<rect x="551.00" y="231.70" width="1" height="18.00" fill="#0b9983" opacity="0.8"/>
<rect x="550.00" y="244.70" width="3.0" height="4.00" fill="#0b9983"/>
<rect x="554.89" y="248.30" width="1" height="13.70" fill="#0b9983" opacity="0.8"/>
<rect x="553.89" y="261.30" width="3.0" height="0.80" fill="#0b9983"/>
<rect x="558.78" y="248.80" width="1" height="12.90" fill="#f03648" opacity="0.8"/>
<rect x="557.78" y="248.80" width="3.0" height="12.90" fill="#f03648"/>
<rect x="562.68" y="260.00" width="1" height="2.00" fill="#f03648" opacity="0.8"/>
<rect x="561.68" y="261.00" width="3.0" height="1.00" fill="#f03648"/>
<rect x="566.57" y="259.20" width="1" height="35.50" fill="#f03648" opacity="0.8"/>
<rect x="565.57" y="259.20" width="3.0" height="25.50" fill="#f03648"/>
<rect x="570.47" y="280.80" width="1" height="22.20" fill="#0b9983" opacity="0.8"/>
<rect x="569.47" y="288.30" width="3.0" height="2.00" fill="#0b9983"/>
<rect x="574.37" y="272.00" width="1" height="25.50" fill="#f03648" opacity="0.8"/>
<rect x="573.37" y="290.00" width="3.0" height="7.50" fill="#f03648"/>
<rect x="578.26" y="279.50" width="1" height="17.50" fill="#f03648" opacity="0.8"/>
<rect x="577.26" y="279.50" width="3.0" height="17.50" fill="#f03648"/>
<rect x="582.15" y="261.70" width="1" height="28.80" fill="#0b9983" opacity="0.8"/>
<rect x="581.15" y="268.00" width="3.0" height="22.50" fill="#0b9983"/>
<rect x="586.05" y="242.50" width="1" height="22.80" fill="#0b9983" opacity="0.8"/>
<rect x="585.05" y="257.00" width="3.0" height="8.30" fill="#0b9983"/>
<rect x="589.94" y="231.70" width="1" height="27.50" fill="#f03648" opacity="0.8"/>
<rect x="588.94" y="257.00" width="3.0" height="2.20" fill="#f03648"/>
<rect x="593.84" y="241.30" width="1" height="15.70" fill="#0b9983" opacity="0.8"/>
<rect x="592.84" y="248.70" width="3.0" height="8.30" fill="#0b9983"/>
<rect x="597.74" y="240.00" width="1" height="12.50" fill="#0b9983" opacity="0.8"/>
<rect x="596.74" y="243.80" width="3.0" height="2.50" fill="#0b9983"/>
<rect x="601.63" y="241.30" width="1" height="6.70" fill="#f03648" opacity="0.8"/>
<rect x="600.63" y="241.30" width="3.0" height="5.00" fill="#f03648"/>
<rect x="605.52" y="217.50" width="1" height="28.80" fill="#0b9983" opacity="0.8"/>
<rect x="604.52" y="226.20" width="3.0" height="20.10" fill="#0b9983"/>
<rect x="609.42" y="225.30" width="1" height="9.20" fill="#f03648" opacity="0.8"/>
<rect x="608.42" y="225.30" width="3.0" height="9.20" fill="#f03648"/>
<rect x="613.31" y="223.30" width="1" height="11.20" fill="#f03648" opacity="0.8"/>
<rect x="612.31" y="232.50" width="3.0" height="2.00" fill="#f03648"/>
<rect x="617.21" y="229.20" width="1" height="2.10" fill="#f03648" opacity="0.8"/>
<rect x="616.21" y="230.50" width="3.0" height="0.80" fill="#f03648"/>
</svg>
<div class="pl" style="top:-5.51px">16100.0000</div>
<div class="pl" style="top:15.42px">16050.0000</div>
<div class="pl" style="top:36.35px">16000.0000</div>
<div class="pl" style="top:57.28px">15950.0000</div>
<div class="pl" style="top:78.21px">15900.0000</div>
<div class="pl" style="top:99.14px">15850.0000</div>
<div class="pl" style="top:120.07px">15800.0000</div>
<div class="pl" style="top:141.00px">15750.0000</div>
<div class="pl" style="top:161.93px">15700.0000</div>
<div class="pl" style="top:182.86px">15650.0000</div>
<div class="pl" style="top:203.79px">15600.0000</div>
<div class="pl" style="top:224.72px">15550.0000</div>
<div class="pl" style="top:245.65px">15500.0000</div>
<div class="pl" style="top:266.58px">15450.0000</div>
<div class="pl" style="top:287.51px">15400.0000</div>
<div class="pl" style="top:308.44px">15350.0000</div>
<div class="pl" style="top:329.37px">15300.0000</div>
<div class="pl" style="top:350.30px">15250.0000</div>
<div class="pl" style="top:371.23px">15200.0000</div>
<div class="pl" style="top:392.16px">15150.0000</div>
<div class="pl" style="top:413.09px">15100.0000</div>
<div class="pl" style="top:434.02px">15050.0000</div>
<div class="pl" style="top:454.95px">15000.0000</div>
<div class="pl" style="top:475.88px">14950.0000</div>
<div class="pl" style="top:496.81px">14900.0000</div>
<div class="pl" style="top:517.74px">14850.0000</div>
<div class="pl" style="top:538.67px">14800.0000</div>
<div class="pl" style="top:559.60px">14750.0000</div>
<div id="taxis"></div>
<div class="tl" style="left:42.3px">Jul</div>
<div class="tl" style="left:124.2px">Aug</div>
<div class="tl" style="left:213.8px">Sep</div>
<div class="tl" style="left:295.6px">Oct</div>
<div class="tl" style="left:381.3px">Nov</div>
<div class="tl" style="left:467.0px">Dec</div>
<div class="tl b" style="left:548.7px">2024</div>
<div class="tl" style="left:607.1px">22</div>
<div id="plabel"><div style="top:0.8px">15552.0000</div><div style="top:10.4px;opacity:.85">14:28:58</div></div>

<!-- header -->
<svg style="position:absolute;left:4px;top:2px" width="18" height="18" viewBox="0 0 18 18">
  <defs><clipPath id="c1"><circle cx="9.9" cy="6.6" r="4"/></clipPath><clipPath id="c2"><circle cx="5.9" cy="10.7" r="4.1"/></clipPath></defs>
  <g clip-path="url(#c1)"><rect x="5" y="2" width="10" height="4.6" fill="#ee3a44"/><rect x="5" y="6.6" width="10" height="5" fill="#fff"/></g>
  <circle cx="5.9" cy="10.7" r="5" fill="#fff"/>
  <g clip-path="url(#c2)"><rect x="1" y="6" width="10" height="10" fill="#fff"/>
  <rect x="1" y="7.5" width="10" height="1.1" fill="#e8505b"/><rect x="1" y="10" width="10" height="1.7" fill="#e8505b"/><rect x="1" y="13" width="10" height="2" fill="#d9434d"/>
  <rect x="1" y="6" width="4.9" height="5.7" fill="#3d9bf0"/></g>
</svg>
<div class="tt" style="left:20.6px;transform:scaleX(0.80)">U.S.</div><div class="tt" style="left:42.6px;transform:scaleX(0.895)">Dollar</div><div class="tt" style="left:74.2px;transform:scaleX(1.15);-webkit-text-stroke:0">/</div><div class="tt" style="left:81.6px;transform:scaleX(0.83)">Rupiah</div><div class="tt" style="left:114.9px;transform:scaleX(0.8)">·</div><div class="tt" style="left:120.9px;transform:scaleX(0.80)">1D</div><div class="tt" style="left:134.7px;transform:scaleX(0.8)">·</div><div class="tt" style="left:140.2px;transform:scaleX(0.77)">ICE</div>
<div style="position:absolute;left:165.7px;top:5.4px;width:25.4px;height:11.2px;border-radius:6px;background:linear-gradient(90deg,#d9f0ec 0 50%,#fbdbe6 50% 100%);"></div>
<div style="position:absolute;left:169.5px;top:8.2px;width:5.6px;height:5.6px;border-radius:50%;background:#0b9983;"></div>
<div style="position:absolute;left:181px;top:4.3px;font-size:10px;line-height:13px;font-weight:bold;color:#e0407b;">≈</div>
<div class="ohlc" style="left:201.7px;color:#131722;-webkit-text-stroke:0.3px #131722">O</div><div class="ohlc" style="left:208.6px">15554.0000</div>
<div class="ohlc" style="left:255px;color:#131722;-webkit-text-stroke:0.3px #131722">H</div><div class="ohlc" style="left:261.6px">15557.0000</div>
<div class="ohlc" style="left:308.1px;color:#131722;-webkit-text-stroke:0.3px #131722">L</div><div class="ohlc" style="left:313.2px">15549.0000</div>
<div class="ohlc" style="left:359.6px;color:#131722;-webkit-text-stroke:0.3px #131722">C</div><div class="ohlc" style="left:367.1px">15552.0000</div>
<div class="ohlc" style="left:412.4px">+8.0000</div><div class="ohlc" style="left:445.4px;transform:scaleX(0.79)">(+0.05%)</div>

<div class="btn" style="left:5.3px;width:50.8px;border-color:#f3a6ab;color:#f03648"><span>15552.0000</span></div>
<div style="position:absolute;left:64px;top:25.6px;font-size:8.3px;line-height:10px;transform-origin:0 50%;transform:scaleX(0.78);color:#131722;-webkit-text-stroke:0.2px #131722">80000</div>
<div class="btn" style="left:87.7px;width:50.9px;border-color:#8aa8f5;color:#2962ff"><span>15560.0000</span></div>

<div style="position:absolute;left:6.2px;top:43.8px;font-size:9px;line-height:12px;white-space:nowrap;transform-origin:0 50%;transform:scaleX(0.84);color:#131722">Vol</div>
<div style="position:absolute;left:22.7px;top:43.8px;font-size:9px;line-height:12px;white-space:nowrap;transform-origin:0 50%;transform:scaleX(0.78);color:#f03648">0</div>

<div style="position:absolute;left:5.8px;top:58.8px;width:17px;height:12.2px;border:1px solid #dfe1e7;border-radius:3px;box-sizing:content-box;background:#fff"></div>
<svg style="position:absolute;left:11.2px;top:61.9px" width="8" height="7" viewBox="0 0 8 7"><path d="M1.2 4.8 L4 2.2 L6.8 4.8" fill="none" stroke="#131722" stroke-width="1.1"/></svg>

<!-- TradingView logo -->
<svg style="position:absolute;left:7.6px;top:558.8px" width="20" height="15.6" viewBox="0 0 36 28"><path d="M14 22H7V11H0V4h14v18zM28 22h-8l7.5-18h8L28 22z" fill="#131722"/><circle cx="20" cy="8" r="4" fill="#131722"/></svg>
<div style="position:absolute;left:31.5px;top:557.5px;font-size:13.6px;line-height:18px;font-weight:bold;letter-spacing:-0.12px;color:#131722;white-space:nowrap">TradingView</div>

<!-- bottom right icons -->
<svg style="position:absolute;left:606px;top:562px" width="40" height="20" viewBox="0 0 40 20">
  <ellipse cx="10.8" cy="10.1" rx="5.5" ry="6.8" fill="#fff" stroke="#9c27b0" stroke-width="1"/>
  <path d="M12 5.8 L8.7 10.7 L10.5 10.7 L9.5 14.5 L12.9 9.5 L11.1 9.5 Z" fill="#9c27b0"/>
  <g>
   <ellipse cx="27.6" cy="9.9" rx="6.3" ry="7.7" fill="#ee4352"/><ellipse cx="27.6" cy="9.9" rx="5.2" ry="6.5" fill="#fff"/><ellipse cx="27.6" cy="9.9" rx="4.5" ry="5.7" fill="#ef5a63"/>
   <g fill="#fff"><rect x="30" y="6.2" width="1.4" height="1.3"/><rect x="30.6" y="9.2" width="1.4" height="1.3"/><rect x="30" y="12.2" width="1.4" height="1.3"/></g>
   <ellipse cx="23.4" cy="9.9" rx="6.3" ry="7.7" fill="#ee4352"/><ellipse cx="23.4" cy="9.9" rx="5.2" ry="6.5" fill="#fff"/><ellipse cx="23.4" cy="9.9" rx="4.5" ry="5.7" fill="#ef5a63"/>
   <g fill="#fff"><rect x="25.8" y="6.2" width="1.4" height="1.3"/><rect x="26.4" y="9.2" width="1.4" height="1.3"/><rect x="25.8" y="12.2" width="1.4" height="1.3"/></g>
   <ellipse cx="18.8" cy="9.9" rx="6.3" ry="7.7" fill="#ee4352"/><ellipse cx="18.8" cy="9.9" rx="5.3" ry="6.6" fill="#fff"/>
   <clipPath id="c3"><ellipse cx="18.8" cy="9.9" rx="4.6" ry="5.8"/></clipPath>
   <g clip-path="url(#c3)"><rect x="13" y="3" width="12" height="14" fill="#fff"/>
    <rect x="13" y="6.2" width="12" height="1.2" fill="#ef5a63"/><rect x="13" y="8.6" width="12" height="1.8" fill="#ef5a63"/><rect x="13" y="12.9" width="12" height="2.2" fill="#e2505a"/>
    <rect x="13" y="3" width="7.1" height="7.7" fill="#3d9bf0"/></g>
  </g>
</svg>

<!-- gear -->
<svg style="position:absolute;left:678.7px;top:585px" width="12" height="12" viewBox="0 0 12 12"><path d="M10.4 6 L8.2 1.8 L3.8 1.8 L1.6 6 L3.8 10.2 L8.2 10.2 Z" fill="none" stroke="#3a3e4a" stroke-width="0.85" stroke-linejoin="round"/><circle cx="6" cy="6" r="1.3" fill="none" stroke="#3a3e4a" stroke-width="0.8"/></svg>
</div>
</body></html>
